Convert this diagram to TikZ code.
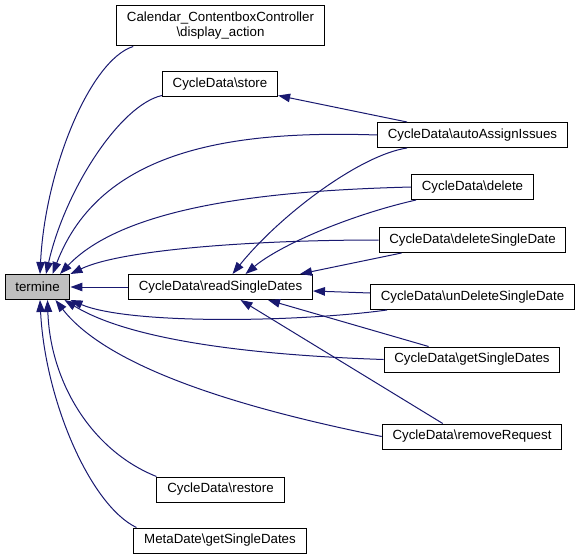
\documentclass[tikz,border=0pt]{standalone}
\usepackage{fontspec}
\setmainfont{Liberation Sans}
\usepackage{xcolor}
\usepackage{tikz}
\usetikzlibrary{arrows.meta, calc}
\definecolor{callblue}{HTML}{191970}
\definecolor{focusgray}{HTML}{BFBFBF}

\begin{document}
\begin{tikzpicture}[x=1pt, y=-1pt,
    fn/.style={draw=black, line width=1pt, fill=white, font=\fontsize{13.3}{15}\selectfont,
      inner xsep=10.3pt, inner ysep=0pt, minimum height=25pt, align=center},
    call/.style={draw=callblue, line width=1pt, -{Triangle[length=12pt, width=8.5pt]}}]
    \useasboundingbox (0,0) rectangle (580,559);

    \node[fn, fill=focusgray] (termine) at (37.5,287) {termine};
    \node[fn, minimum height=40pt] (display) at (220.5,26) {Calendar\_ContentboxController\\
      \textbackslash display\_action};
    \node[fn] (store) at (220,84.5) {CycleData\textbackslash store};
    \node[fn] (readdates) at (220.5,287) {CycleData\textbackslash readSingleDates};
    \node[fn] (restore) at (220.5,489.5) {CycleData\textbackslash restore};
    \node[fn] (metadates) at (220,540.5) {MetaDate\textbackslash getSingleDates};
    \node[fn] (autoassign) at (472.5,135) {CycleData\textbackslash autoAssignIssues};
    \node[fn] (delete) at (472.5,187) {CycleData\textbackslash delete};
    \node[fn] (deletedate) at (472.5,240) {CycleData\textbackslash deleteSingleDate};
    \node[fn] (undelete) at (472.5,297) {CycleData\textbackslash unDeleteSingleDate};
    \node[fn] (getdates) at (472,359.5) {CycleData\textbackslash getSingleDates};
    \node[fn] (removereq) at (472,436.5) {CycleData\textbackslash removeRequest};

    % callers of termine
    \draw [call] ([xshift=17pt]display.south west) .. controls (90,60) and (45,170) .. ([xshift=2.5pt]termine.north);
    \draw [call] ([yshift=2pt]store.south west) .. controls (120,105) and (65,190) .. ([xshift=8.5pt]termine.north);
    \draw [call] (autoassign.west) .. controls (230,130) and (100,150) .. ([xshift=15pt]termine.north);
    \draw [call] (delete.west) .. controls (300,190) and (130,200) .. ([xshift=22.5pt]termine.north);
    \draw [call] (deletedate.west) .. controls (250,240) and (120,250) .. (termine.north east);
    \draw [call] (readdates.west) -- (termine.east);
    \draw [call] ([xshift=17pt]undelete.south west) .. controls (300,322) and (130,325) .. (termine.south east);
    \draw [call] (getdates.west) .. controls (250,355) and (130,340) .. ([xshift=-6pt]termine.south east);
    \draw [call] (removereq.west) .. controls (250,410) and (110,370) .. ([xshift=-15pt]termine.south east);
    \draw [call] (restore.north west) .. controls (90,450) and (50,380) .. ([xshift=10pt]termine.south);
    \draw [call] ([xshift=3pt]metadates.north west) .. controls (90,505) and (45,400) .. ([xshift=2.5pt]termine.south);

    % callers of store and readSingleDates
    \draw [call] ([xshift=30pt]autoassign.north west) -- ([yshift=2pt]store.south east);
    \draw [call] ([xshift=30pt]autoassign.south west) .. controls (360,155) and (280,215) .. ([xshift=12pt]readdates.north);
    \draw [call] ([xshift=5pt]delete.south west) .. controls (350,215) and (280,245) .. ([xshift=25pt]readdates.north);
    \draw [call] ([xshift=23pt]deletedate.south west) -- ([xshift=-13pt]readdates.north east);
    \draw [call] ([yshift=4pt]undelete.west) -- ([yshift=-4pt]readdates.east);
    \draw [call] ([xshift=45pt]getdates.north west) -- ([xshift=-45pt]readdates.south east);
    \draw [call] ([xshift=61pt]removereq.north west) -- ([xshift=20pt]readdates.south);
\end{tikzpicture}
\end{document}
